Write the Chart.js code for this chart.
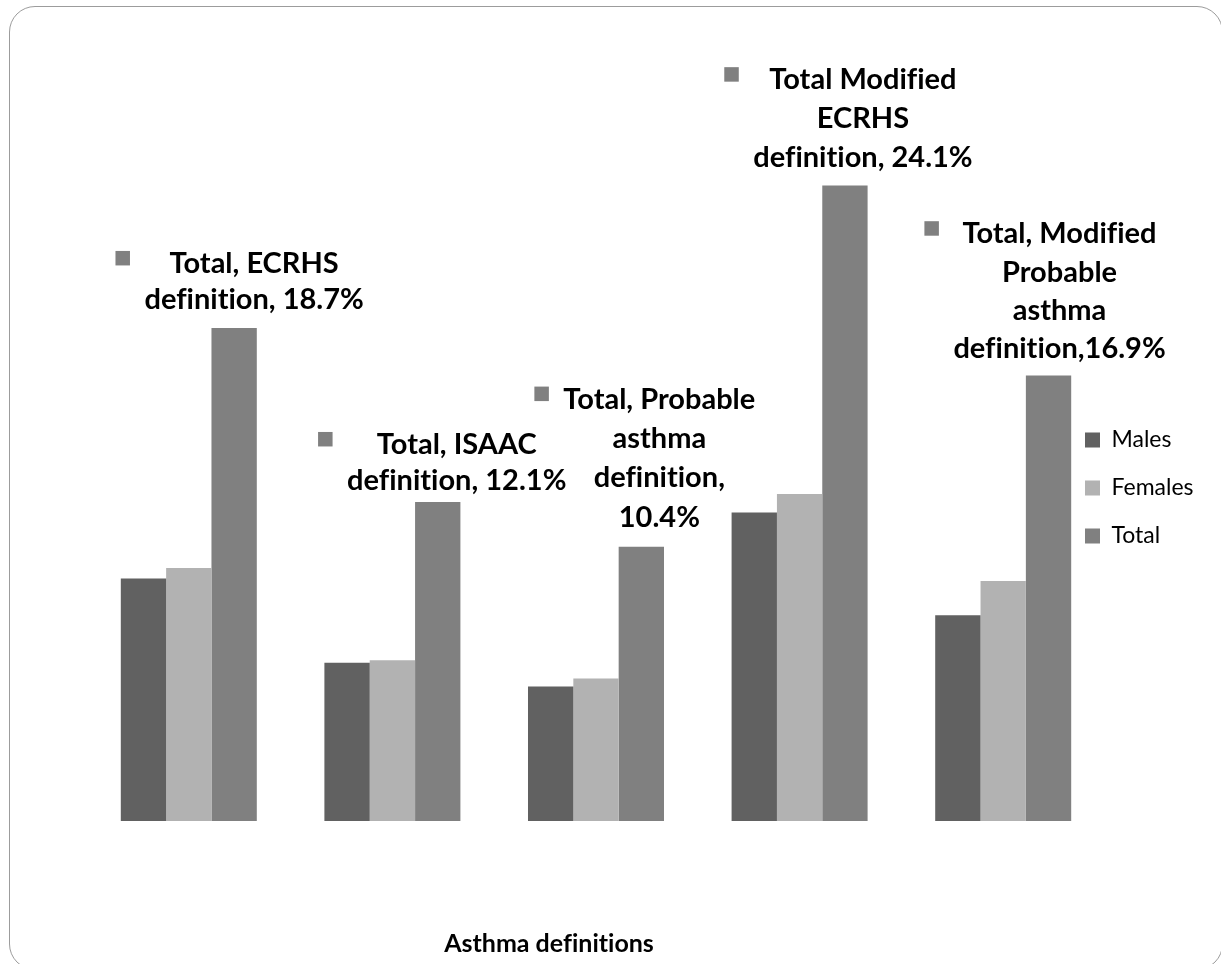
<!DOCTYPE html>
<html>
<head>
<meta charset="utf-8">
<title>Asthma definitions</title>
<script src="https://cdn.jsdelivr.net/npm/chart.js@4.4.1/dist/chart.umd.min.js"></script>
<style>
  html, body { margin: 0; padding: 0; width: 1221px; height: 964px; overflow: hidden; background: #ffffff; }
  #frame {
    position: absolute; left: 9px; top: 6px; width: 1214px; height: 964px;
    border: 1.5px solid #9c9c9c; border-radius: 26px; box-sizing: border-box;
  }
  #wrap { position: absolute; left: 0; top: 0; width: 1221px; height: 964px; }
</style>
</head>
<body>
<div id="frame"></div>
<div id="wrap"><canvas id="chart" width="1221" height="964"></canvas></div>
<script>
// Prevalence of asthma (%) by definition and sex
const categories = ['ECRHS', 'ISAAC', 'Probable asthma', 'Modified ECRHS', 'Modified Probable asthma'];
const seriesNames = ['Males', 'Females', 'Total'];
const males   = [9.2, 6.0, 5.1, 11.7, 7.8];
const females = [9.6, 6.1, 5.4, 12.4, 9.1];
const totals  = [18.7, 12.1, 10.4, 24.1, 16.9];

// Data-label wording for the Total bars; {v} is replaced by the bar's value
const labelTemplates = [
  ['Total, ECRHS', 'definition, {v}%'],
  ['Total, ISAAC', 'definition, {v}%'],
  ['Total, Probable', 'asthma', 'definition,', '{v}%'],
  ['Total Modified', 'ECRHS', 'definition, {v}%'],
  ['Total, Modified', 'Probable', 'asthma', 'definition,{v}%']
];
const axisTitle = 'Asthma definitions';
const yMax = 30;

// Styling
const seriesColors = ['#616161', '#b2b2b2', '#808080'];
const FONT = 'Lato, "Open Sans", sans-serif';
const LABEL_SIZE = 29;
const KEY = 14.5;
// dx: label centre from bar centre, dy: last baseline from bar top, lh: line spacing
const labelOffsets = [
  { dx: 20, dy: -19, lh: 36 },
  { dx: 19, dy: -12, lh: 36 },
  { dx: 18, dy: -20, lh: 39.4 },
  { dx: 18, dy: -19, lh: 38.7 },
  { dx: 11, dy: -17, lh: 38.4 }
];

// Labels with a legend key above every Total bar
const totalLabels = {
  id: 'totalLabels',
  afterDatasetsDraw(chart) {
    const ctx = chart.ctx;
    const ds = chart.data.datasets[2];
    const meta = chart.getDatasetMeta(2);
    ctx.save();
    ctx.font = `bold ${LABEL_SIZE}px ${FONT}`;
    ctx.textRendering = 'optimizeSpeed';
    ctx.textAlign = 'center';
    ctx.textBaseline = 'alphabetic';
    meta.data.forEach((bar, i) => {
      const v = ds.data[i].toFixed(1);
      const lines = labelTemplates[i].map(t => t.replace('{v}', v));
      const o = labelOffsets[i];
      const cx = bar.x + o.dx;
      const firstBase = bar.y + o.dy - (lines.length - 1) * o.lh;
      const widest = Math.max(...lines.map(l => ctx.measureText(l).width));
      ctx.fillStyle = '#000000';
      lines.forEach((l, k) => ctx.fillText(l, cx, firstBase + k * o.lh));
      ctx.fillStyle = ds.backgroundColor;
      ctx.fillRect(cx - widest / 2 - 14.5 - KEY, firstBase - 22, KEY, KEY);
    });
    ctx.restore();
  }
};

// Category axis title under the plot
const axisTitlePlugin = {
  id: 'axisTitle',
  afterDraw(chart) {
    const ctx = chart.ctx;
    const area = chart.chartArea;
    ctx.save();
    ctx.font = `bold 25px ${FONT}`;
    ctx.textRendering = 'optimizeSpeed';
    ctx.fillStyle = '#000000';
    ctx.textAlign = 'center';
    ctx.textBaseline = 'alphabetic';
    ctx.fillText(axisTitle, area.left + 462, area.bottom + 131);
    ctx.restore();
  }
};

// Pull the legend slightly into the plot area, level with the middle bars
const legendPlacement = {
  id: 'legendPlacement',
  afterLayout(chart) {
    const lg = chart.legend;
    if (!lg) return;
    const h = lg.bottom - lg.top;
    lg.left -= 45;
    lg.top = 403.5; lg.bottom = lg.top + h;
  }
};

new Chart(document.getElementById('chart'), {
  type: 'bar',
  data: {
    labels: categories,
    datasets: [
      { label: seriesNames[0], data: males,   backgroundColor: seriesColors[0], borderWidth: 0 },
      { label: seriesNames[1], data: females, backgroundColor: seriesColors[1], borderWidth: 0 },
      { label: seriesNames[2], data: totals,  backgroundColor: seriesColors[2], borderWidth: 0 }
    ]
  },
  options: {
    responsive: false,
    animation: false,
    events: [],
    layout: { padding: { left: 87, right: 0, top: 30, bottom: 143 } },
    datasets: { bar: { categoryPercentage: 0.668, barPercentage: 1.0 } },
    scales: {
      x: { display: false, grid: { display: false } },
      y: { display: false, min: 0, max: yMax, grid: { display: false } }
    },
    plugins: {
      tooltip: { enabled: false },
      title: { display: false },
      legend: {
        position: 'right',
        align: 'start',
        maxWidth: 116,
        labels: {
          boxWidth: 15,
          boxHeight: 15,
          padding: 25,
          color: '#000000',
          font: { family: FONT, size: 23 }
        }
      }
    }
  },
  plugins: [totalLabels, axisTitlePlugin, legendPlacement]
});
</script>
</body>
</html>
